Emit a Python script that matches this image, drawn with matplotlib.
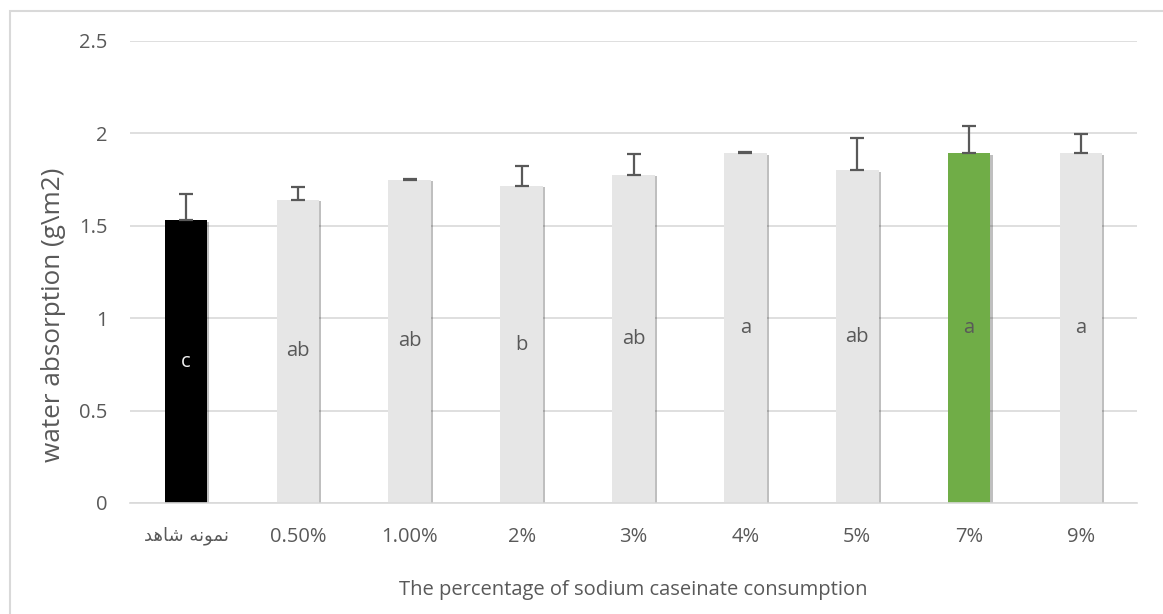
import matplotlib
matplotlib.use("Agg")
import matplotlib.pyplot as plt
import matplotlib.patheffects as pe
from matplotlib.patches import Rectangle

categories = ["\ufeaa\ufeeb\ufe8e\ufeb7 \ufeea\ufee7\ufeee\ufee4\ufee7", "0.50%", "1.00%", "2%", "3%", "4%", "5%", "7%", "9%"]
values = [1.53, 1.64, 1.748, 1.715, 1.777, 1.892, 1.80, 1.892, 1.892]
errors = [0.14, 0.07, 0.006, 0.11, 0.11, 0.006, 0.175, 0.15, 0.105]
letters = ["c", "ab", "ab", "b", "ab", "a", "ab", "a", "a"]
colors = ["#000000", "#e6e6e6", "#e6e6e6", "#e6e6e6", "#e6e6e6", "#e6e6e6", "#e6e6e6", "#70ad47", "#e6e6e6"]

plt.rcParams['font.family'] = ['Open Sans', 'DejaVu Sans']
txt = "#595959"

fig = plt.figure(figsize=(11.63, 6.14), dpi=100)
ax = fig.add_axes([130/1163, 1-503/614, (1137-130)/1163, (503-41)/614])

x = list(range(len(categories)))
shadow = [pe.SimplePatchShadow(offset=(1.5, -1), shadow_rgbFace="#000000", alpha=0.25), pe.Normal()]
bars = ax.bar(x, values, width=0.38, color=colors, zorder=2)
for b in bars:
    b.set_path_effects(shadow)
ax.errorbar(x, values, yerr=[[0]*len(values), errors], fmt="none", ecolor="#595959",
            elinewidth=1.6, capsize=4.7, capthick=1.6, zorder=3)

for xi, v, l in zip(x, values, letters):
    ax.text(xi, v/2, l, ha="center", va="center", fontsize=14.5,
            color="#f2f2f2" if l == "c" else "#595959", zorder=4)

ax.set_xlim(-0.5, len(categories)-0.5)
ax.set_ylim(0, 2.5)
ax.set_yticks([0, 0.5, 1, 1.5, 2, 2.5])
ax.set_yticklabels(["0", "0.5", "1", "1.5", "2", "2.5"])
ax.yaxis.grid(True, color="#d9d9d9", linewidth=1.2, zorder=0)
ax.set_axisbelow(True)
for s in ["top", "right", "left"]:
    ax.spines[s].set_visible(False)
ax.spines["bottom"].set_color("#d9d9d9")
ax.spines["bottom"].set_linewidth(1.2)
ax.tick_params(axis="both", length=0, labelsize=14.5, labelcolor=txt)
ax.tick_params(axis="y", pad=16)
ax.tick_params(axis="x", pad=17)
ax.set_xticks(x)
ax.set_xticklabels(categories)
ax.get_xticklabels()[0].set_family(['DejaVu Sans'])
ax.get_xticklabels()[0].set_fontsize(13)

ax.set_xlabel("The percentage of sodium caseinate consumption", fontsize=14.5, color=txt, labelpad=24)
ax.set_ylabel("water absorption (g\\m2)", fontsize=18.8, color=txt)
ax.yaxis.set_label_coords(-0.064, 0.408)

fig.patches.append(Rectangle((10/1163, -0.1), 1.2, 1-11/614+0.1, transform=fig.transFigure,
                             fill=False, edgecolor="#d9d9d9", linewidth=1.5))

fig.savefig("out.png", dpi=100)
